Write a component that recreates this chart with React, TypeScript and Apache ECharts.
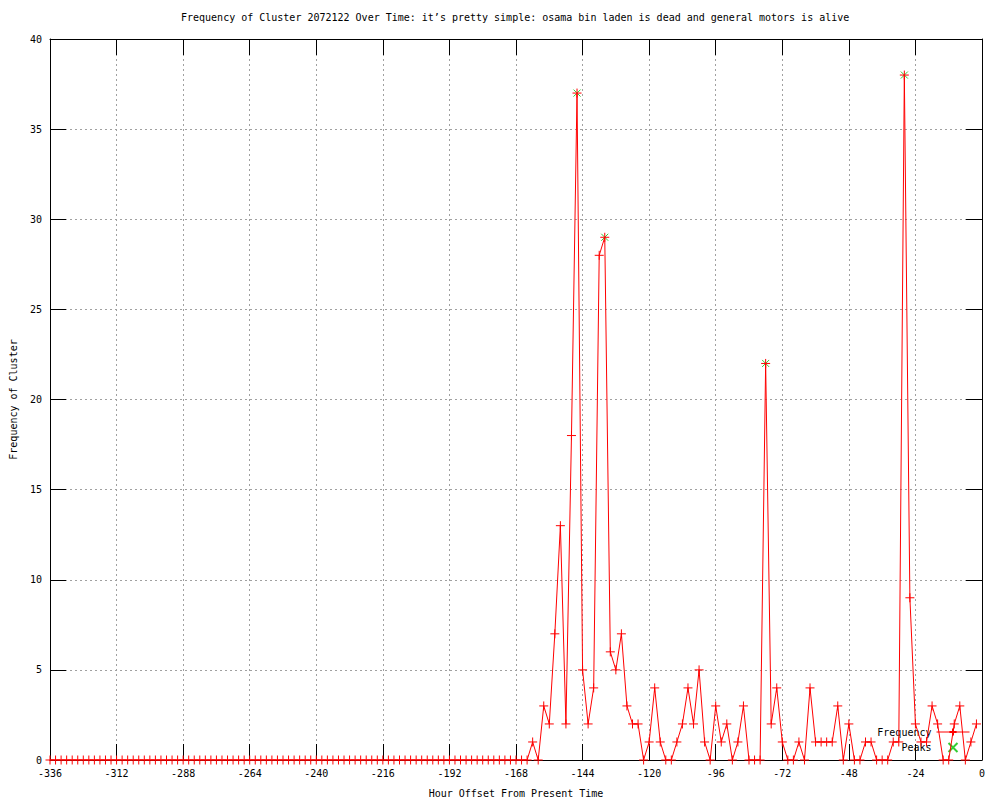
import React, { useEffect, useRef } from 'react';
import * as echarts from 'echarts';

const hours: number[] = [
  -336, -334, -332, -330, -328, -326, -324, -322, -320, -318, -316, -314,
  -312, -310, -308, -306, -304, -302, -300, -298, -296, -294, -292, -290,
  -288, -286, -284, -282, -280, -278, -276, -274, -272, -270, -268, -266,
  -264, -262, -260, -258, -256, -254, -252, -250, -248, -246, -244, -242,
  -240, -238, -236, -234, -232, -230, -228, -226, -224, -222, -220, -218,
  -216, -214, -212, -210, -208, -206, -204, -202, -200, -198, -196, -194,
  -192, -190, -188, -186, -184, -182, -180, -178, -176, -174, -172, -170,
  -168, -166, -164, -162, -160, -158, -156, -154, -152, -150, -148, -146,
  -144, -142, -140, -138, -136, -134, -132, -130, -128, -126, -124, -122,
  -120, -118, -116, -114, -112, -110, -108, -106, -104, -102, -100, -98,
  -96, -94, -92, -90, -88, -86, -84, -82, -80, -78, -76, -74,
  -72, -70, -68, -66, -64, -62, -60, -58, -56, -54, -52, -50,
  -48, -46, -44, -42, -40, -38, -36, -34, -32, -30, -28, -26,
  -24, -22, -20, -18, -16, -14, -12, -10, -8, -6, -4, -2,
];

const frequency: number[] = [
  0, 0, 0, 0, 0, 0, 0, 0, 0, 0, 0, 0,
  0, 0, 0, 0, 0, 0, 0, 0, 0, 0, 0, 0,
  0, 0, 0, 0, 0, 0, 0, 0, 0, 0, 0, 0,
  0, 0, 0, 0, 0, 0, 0, 0, 0, 0, 0, 0,
  0, 0, 0, 0, 0, 0, 0, 0, 0, 0, 0, 0,
  0, 0, 0, 0, 0, 0, 0, 0, 0, 0, 0, 0,
  0, 0, 0, 0, 0, 0, 0, 0, 0, 0, 0, 0,
  0, 0, 0, 1, 0, 3, 2, 7, 13, 2, 18, 37,
  5, 2, 4, 28, 29, 6, 5, 7, 3, 2, 2, 0,
  1, 4, 1, 0, 0, 1, 2, 4, 2, 5, 1, 0,
  3, 1, 2, 0, 1, 3, 0, 0, 0, 22, 2, 4,
  1, 0, 0, 1, 0, 4, 1, 1, 1, 1, 3, 0,
  2, 0, 0, 1, 1, 0, 0, 0, 1, 1, 38, 9,
  2, 1, 1, 3, 2, 0, 0, 2, 3, 0, 1, 2,
];

const peakHours: number[] = [-146, -136, -78, -28];
const peakValues: number[] = [37, 29, 22, 38];

const titleText =
  'Frequency of Cluster 2072122 Over Time: it\u2019s pretty simple: osama bin laden is dead and general motors is alive';
const xName = 'Hour Offset From Present Time';
const yName = 'Frequency of Cluster';

const FONT = '"DejaVu Sans Mono", "Liberation Mono", monospace';

export default function App() {
  const ref = useRef<HTMLDivElement>(null);
  useEffect(() => {
    const chart = echarts.init(ref.current!, null, { renderer: 'svg' });
    const plus = 'path://M0,5L10,5M5,0L5,10';
    const cross = 'path://M0,0L10,10M10,0L0,10';
    const textStyle = { fontFamily: FONT, fontSize: 10, color: '#000' };
    const splitLine = { show: true, lineStyle: { color: '#a0a0a0', width: 1, type: [2, 3] } };
    const axisLine = { show: true, onZero: false, lineStyle: { color: '#000', width: 1 } };
    const axisTick = { show: true, inside: true, length: 16, lineStyle: { color: '#000', width: 1 } };
    chart.setOption({
      animation: false,
      backgroundColor: '#fff',
      title: {
        text: titleText,
        left: 181,
        top: 12,
        padding: 0,
        textStyle: { ...textStyle, fontWeight: 'normal' },
      },
      grid: {
        left: 50,
        right: 18,
        top: 39,
        bottom: 40,
        containLabel: false,
        outerBoundsMode: 'none',
      },
      legend: {
        data: [
          { name: 'Frequency', lineStyle: { width: 1, color: '#ff0000' } },
          { name: 'Peaks' },
        ],
        orient: 'vertical',
        align: 'right',
        right: 30,
        top: 727,
        itemWidth: 33,
        itemHeight: 9,
        itemGap: 5,
        padding: 0,
        selectedMode: false,
        textStyle: { ...textStyle },
      },
      xAxis: [
        {
          type: 'value',
          min: -336,
          max: 0,
          interval: 24,
          position: 'bottom',
          name: xName,
          nameLocation: 'middle',
          nameGap: 28,
          nameTextStyle: { ...textStyle },
          axisLine,
          axisTick,
          axisLabel: { ...textStyle, margin: 8 },
          splitLine,
        },
        {
          type: 'value',
          min: -336,
          max: 0,
          interval: 24,
          position: 'top',
          axisLine,
          axisTick,
          axisLabel: { show: false },
          splitLine: { show: false },
        },
      ],
      yAxis: [
        {
          type: 'value',
          min: 0,
          max: 40,
          interval: 5,
          position: 'left',
          name: yName,
          nameLocation: 'middle',
          nameGap: 32,
          nameTextStyle: { ...textStyle },
          axisLine,
          axisTick,
          axisLabel: { ...textStyle, margin: 8 },
          splitLine,
        },
        {
          type: 'value',
          min: 0,
          max: 40,
          interval: 5,
          position: 'right',
          axisLine,
          axisTick,
          axisLabel: { show: false },
          splitLine: { show: false },
        },
      ],
      series: [
        {
          name: 'Frequency',
          type: 'line',
          xAxisIndex: 0,
          yAxisIndex: 0,
          data: hours.map((h, i) => [h, frequency[i]]),
          symbol: plus,
          symbolSize: 9,
          showSymbol: true,
          lineStyle: { color: '#ff0000', width: 1 },
          itemStyle: { color: '#ff0000', borderColor: '#ff0000', borderWidth: 1 },
          z: 4,
          silent: true,
        },
        {
          name: 'Peaks',
          type: 'scatter',
          xAxisIndex: 0,
          yAxisIndex: 0,
          data: peakHours.map((h, i) => [h, peakValues[i]]),
          symbol: cross,
          symbolSize: 7,
          itemStyle: { color: '#00c000', borderColor: '#00c000', borderWidth: 1 },
          z: 3,
          silent: true,
        },
      ],
    });
    return () => chart.dispose();
  }, []);
  return (
    <div
      ref={ref}
      style={{ position: 'absolute', left: 0, top: 0, width: 1000, height: 800, background: '#fff' }}
    />
  );
}
